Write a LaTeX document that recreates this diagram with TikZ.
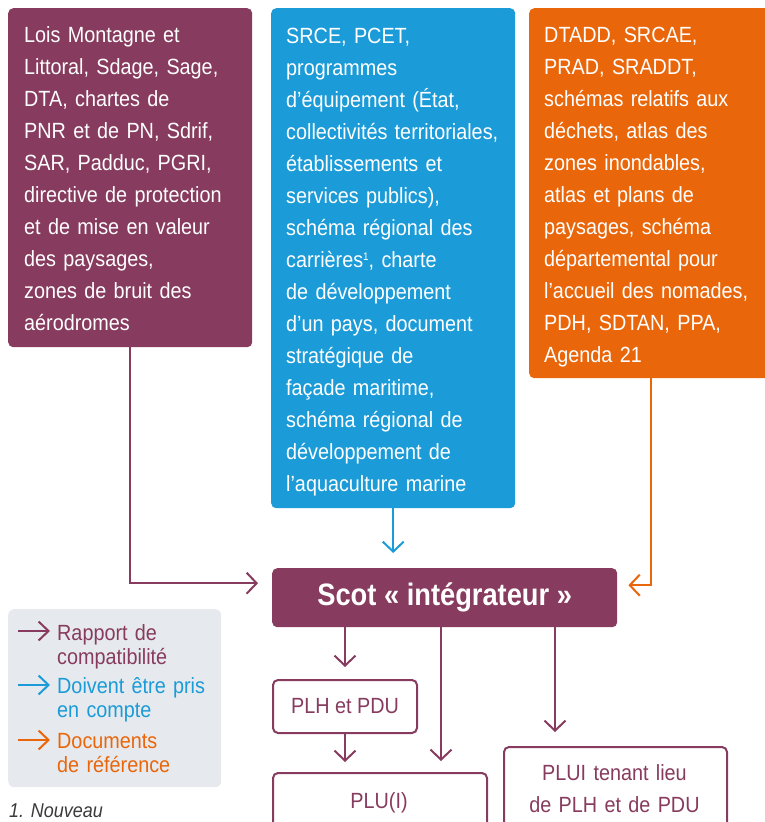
\documentclass[tikz,border=0pt]{standalone}
\usepackage{fontspec}
\setmainfont[FakeStretch=0.9]{Liberation Sans}
\newfontfamily\scotfont[FakeStretch=0.88]{Liberation Sans}
\usetikzlibrary{arrows.meta}
\definecolor{plum}{HTML}{873B5E}
\definecolor{sky}{HTML}{1B9BD7}
\definecolor{tang}{HTML}{E9660B}
\definecolor{legbg}{HTML}{E6EAEE}
\definecolor{foot}{HTML}{3A3A3A}
\newcommand{\smallsup}[1]{\raisebox{7pt}{\fontsize{11}{11}\selectfont #1}}
\begin{document}
\begin{tikzpicture}[x=1pt,y=-1pt,
  bigbox/.style={rounded corners=5pt, minimum width=244pt, inner sep=0pt, anchor=north west},
  boxtxt/.style={anchor=base west, inner sep=0pt, text width=250pt, align=left, text=white, font=\fontsize{22}{32}\selectfont},
  framebox/.style={draw=plum, line width=2pt, rounded corners=5pt, fill=white, inner sep=0pt, anchor=north west},
  plaintxt/.style={inner sep=0pt, text=plum, font=\fontsize{22}{32}\selectfont},
  legtxt/.style={anchor=base west, inner sep=0pt, text width=160pt, align=left, font=\fontsize{22}{24}\selectfont},
  conn/.style={line width=2pt, -{Straight Barb[length=10pt,width=21pt]}},
  legarrow/.style={line width=2pt, -{Straight Barb[length=10pt,width=19pt]}}
]
\useasboundingbox (0,0) rectangle (764,822);

% top boxes
\node[bigbox, fill=plum, minimum height=339pt] (lois) at (8,8) {};
\node[boxtxt] (loistxt) at (24,42) {Lois Montagne et\\Littoral, Sdage, Sage,\\DTA, chartes de\\PNR et de PN, Sdrif,\\SAR, Padduc, PGRI,\\directive de protection\\et de mise en valeur\\des paysages,\\zones de bruit des\\aérodromes};

\node[bigbox, fill=sky, minimum height=500pt] (srce) at (271,8) {};
\node[boxtxt] (srcetxt) at (286,43) {SRCE, PCET,\\programmes\\d’équipement (État,\\collectivités territoriales,\\établissements et\\services publics),\\schéma régional des\\carrières\smallsup{1}, charte\\de développement\\d’un pays, document\\stratégique de\\façade maritime,\\schéma régional de\\développement de\\l’aquaculture marine};

\node[bigbox, fill=tang, minimum height=370pt] (dtadd) at (529,8) {};
\node[boxtxt] (dtaddtxt) at (544,42) {DTADD, SRCAE,\\PRAD, SRADDT,\\schémas relatifs aux\\déchets, atlas des\\zones inondables,\\atlas et plans de\\paysages, schéma\\départemental pour\\l’accueil des nomades,\\PDH, SDTAN, PPA,\\Agenda 21};

% Scot
\node[fill=plum, rounded corners=5pt, minimum width=345pt, minimum height=59pt, anchor=north west, inner sep=0pt, text=white, font=\scotfont\bfseries\fontsize{31}{36}\selectfont] (scot) at (272,568) {Scot « intégrateur »};

% lower boxes
\node[framebox, minimum width=144pt, minimum height=53pt, plaintxt, anchor=north west] (plh) at (272,679) {PLH et PDU};
\node[framebox, minimum width=214pt, minimum height=90pt] (plu) at (272,772) {};
\node[plaintxt, anchor=base] (plutxt) at (379,808) {PLU(I)};
\node[framebox, minimum width=223pt, minimum height=110pt] (plui) at (503,746) {};
\node[plaintxt, anchor=base, text width=220pt, align=center] (pluitxt) at (614.5,780) {PLUI tenant lieu\\de PLH et de PDU};

% connectors
\draw[conn, plum, shorten >=14pt] (lois.south) |- ([yshift=14.5pt]scot.west);
\draw[conn, sky, shorten >=15pt] (srce.south) -- (srce.south |- scot.north);
\draw[conn, tang, shorten >=11pt] (dtadd.south) |- ([yshift=12.5pt]scot.east);
\draw[conn, plum, shorten >=12pt] (scot.south -| plh.north) -- (plh.north);
\draw[conn, plum, shorten >=10pt] (plh.south) -- (plh.south |- plu.north);
\coordinate (mx) at (441,0);
\coordinate (rx) at (555,0);
\draw[conn, plum, shorten >=11pt] (scot.south -| mx) -- (plu.north -| mx);
\draw[conn, plum, shorten >=14pt] (scot.south -| rx) -- (plui.north -| rx);

% legend
\node[fill=legbg, rounded corners=6pt, minimum width=213pt, minimum height=178pt, anchor=north west, inner sep=0pt] (leg) at (8,609) {};
\coordinate (la0) at (18,631); \coordinate (la1) at (50,631);
\coordinate (lb0) at (18,685); \coordinate (lb1) at (50,685);
\coordinate (lc0) at (18,740); \coordinate (lc1) at (50,740);
\draw[legarrow, plum] (la0) -- (la1);
\draw[legarrow, sky] (lb0) -- (lb1);
\draw[legarrow, tang] (lc0) -- (lc1);
\node[legtxt, text=plum] (leg1) at (57,640) {Rapport de\\compatibilité};
\node[legtxt, text=sky] (leg2) at (57,693) {Doivent être pris\\en compte};
\node[legtxt, text=tang] (leg3) at (57,748) {Documents\\de référence};

% footnote
\node[anchor=base west, inner sep=0pt, text=foot, font=\itshape\fontsize{20}{24}\selectfont] (fn) at (9,817) {1. Nouveau};
\end{tikzpicture}
\end{document}
